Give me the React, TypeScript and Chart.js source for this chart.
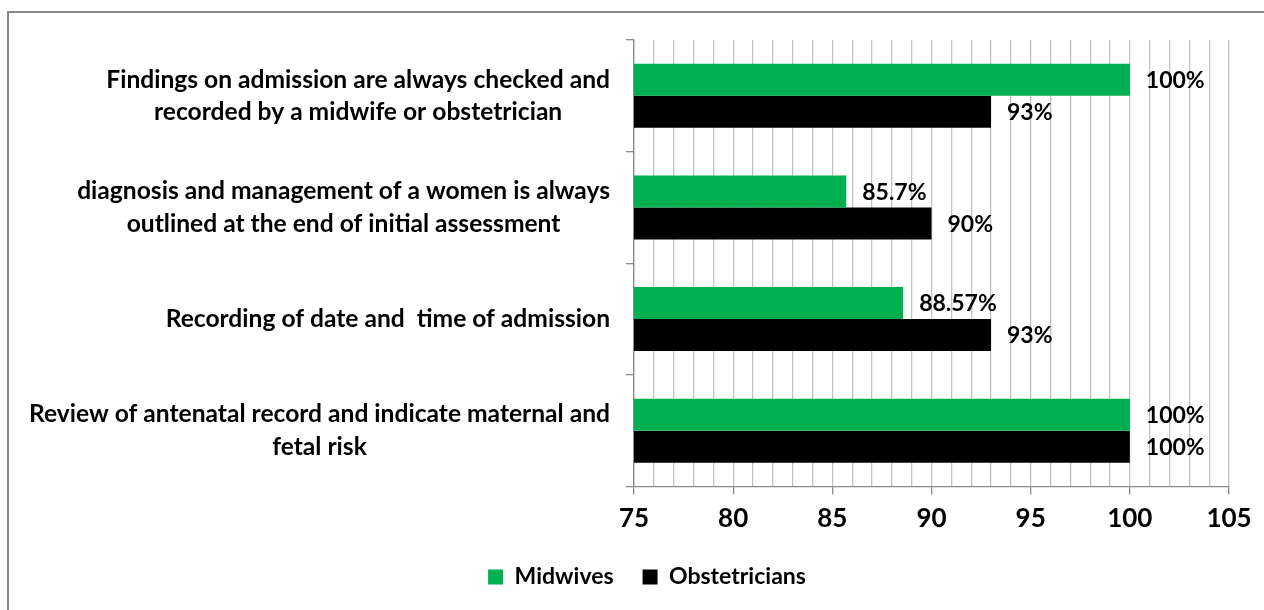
import React, { useEffect, useRef } from "react";
import { Chart, registerables } from "chart.js";

Chart.register(...registerables);

const categories: string[][] = [
  ["Findings on admission are always checked and", "recorded by a midwife or obstetrician"],
  ["diagnosis and management of a women is always", "outlined at the end of initial assessment"],
  ["Recording of date and  time of admission"],
  ["Review of antenatal record and indicate maternal and", "fetal risk"],
];
const seriesNames = ["Midwives", "Obstetricians"];
const midwives = [100, 85.7, 88.57, 100];
const obstetricians = [93, 90, 93, 100];
const xMin = 75;
const xMax = 105;
const minorStep = 1;
const majorStep = 5;

const FONT = "Lato";
const WEIGHT = "bold";

const categoryLabelPlugin = {
  id: "categoryLabels",
  afterDraw(chart: any) {
    const ctx = chart.ctx;
    const yScale = chart.scales.y;
    const area = chart.chartArea;
    ctx.save();
    ctx.font = `${WEIGHT} 24.6px ${FONT}`;
    ctx.fillStyle = "#000";
    ctx.textAlign = "center";
    ctx.textBaseline = "middle";
    const lineH = 32.5;
    const right = area.left - 24;
    categories.forEach((lines, i) => {
      const yc = yScale.getPixelForValue(i);
      const maxW = Math.max(...lines.map((l) => ctx.measureText(l).width));
      const cx = right - maxW / 2;
      const y0 = yc - ((lines.length - 1) * lineH) / 2;
      lines.forEach((l, j) => ctx.fillText(l, cx, y0 + j * lineH));
    });
    ctx.restore();
  },
};

const valueLabelPlugin = {
  id: "valueLabels",
  afterDatasetsDraw(chart: any) {
    const ctx = chart.ctx;
    ctx.save();
    ctx.font = `${WEIGHT} 23px ${FONT}`;
    ctx.fillStyle = "#000";
    ctx.textAlign = "left";
    ctx.textBaseline = "middle";
    chart.data.datasets.forEach((ds: any, di: number) => {
      const meta = chart.getDatasetMeta(di);
      meta.data.forEach((el: any, i: number) => {
        ctx.fillText(String(ds.data[i]) + "%", el.x + 16, el.y + 1);
      });
    });
    ctx.restore();
  },
};

export default function App() {
  const ref = useRef<HTMLCanvasElement>(null);
  useEffect(() => {
    if (!ref.current) return;
    const chart = new Chart(ref.current, {
      type: "bar",
      data: {
        labels: categories,
        datasets: [
          {
            label: seriesNames[0],
            data: midwives,
            backgroundColor: "#00B050",
            borderWidth: 0,
            categoryPercentage: 0.573,
            barPercentage: 1,
          },
          {
            label: seriesNames[1],
            data: obstetricians,
            backgroundColor: "#000000",
            borderWidth: 0,
            categoryPercentage: 0.573,
            barPercentage: 1,
          },
        ],
      },
      options: {
        indexAxis: "y",
        animation: false,
        responsive: false,
        devicePixelRatio: 1,
        layout: { padding: { left: 56, right: 35, top: 27, bottom: 1.5 } },
        scales: {
          x: {
            type: "linear",
            position: "bottom",
            min: xMin,
            max: xMax,
            ticks: {
              stepSize: minorStep,
              autoSkip: false,
              maxRotation: 0,
              padding: 9,
              color: "#000",
              font: { family: FONT, weight: WEIGHT, size: 26 },
              callback: (v: any) => (Number(v) % majorStep === 0 ? String(v) : ""),
            },
            grid: {
              color: "#c3c3c3",
              lineWidth: 1.3,
              tickLength: 8,
              tickWidth: 1.3,
              tickColor: (c: any) =>
                c.tick && c.tick.value % majorStep === 0 ? "#8a8a8a" : "rgba(0,0,0,0)",
            },
            border: { color: "#8a8a8a", width: 1.3 },
            afterFit: (s: any) => {
              s.height = 50;
            },
          },
          y: {
            type: "category",
            offset: true,
            ticks: { display: false },
            grid: {
              drawOnChartArea: false,
              offset: true,
              tickLength: 8,
              color: "#8a8a8a",
              lineWidth: 1.3,
            },
            border: { color: "#8a8a8a", width: 1.3 },
            afterFit: (s: any) => {
              s.width = 625 - 56;
            },
          },
        },
        plugins: {
          tooltip: { enabled: false },
          legend: {
            position: "bottom",
            labels: {
              boxWidth: 15,
              boxHeight: 15,
              padding: 29,
              color: "#000",
              font: { family: FONT, weight: WEIGHT, size: 23 },
            },
          },
        },
      } as any,
      plugins: [categoryLabelPlugin, valueLabelPlugin],
    });
    return () => chart.destroy();
  }, []);

  return (
    <>
      <div
        style={{
          position: "fixed",
          left: 7,
          top: 11,
          right: -20,
          bottom: -20,
          borderTop: "2px solid #8a8a8a",
          borderLeft: "2px solid #8a8a8a",
        }}
      />
      <div style={{ position: "fixed", left: 9, top: 13 }}>
        <canvas ref={ref} width={1255} height={587} style={{ display: "block" }} />
      </div>
    </>
  );
}
